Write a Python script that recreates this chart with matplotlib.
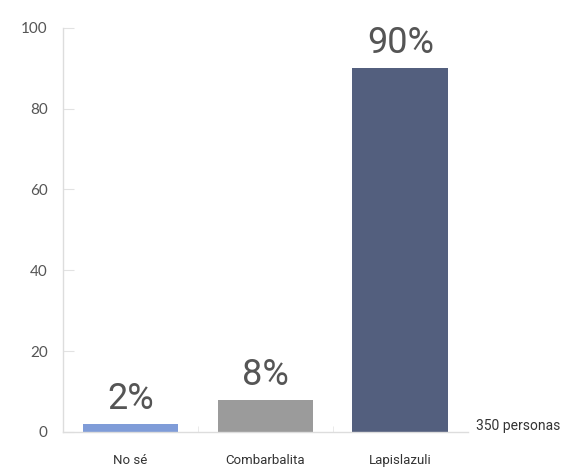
import matplotlib.pyplot as plt
import numpy as np

categories = ['No sé', 'Combarbalita', 'Lapislazuli']
values = [2, 8, 90]
value_labels = ['2%', '8%', '90%']
bar_colors = ['#7f9cd8', '#9b9b9b', '#535f7e']
y_ticks = [0, 20, 40, 60, 80, 100]
total_note = '350 personas'

fig = plt.figure(figsize=(5.84, 4.72), dpi=100)
ax = fig.add_axes([0.108, 0.085, 0.693, 0.856])

x = np.arange(len(categories))
bars = ax.bar(x, values, width=0.71, color=bar_colors)

# percentage labels sitting above each bar
for rect, lab in zip(bars, value_labels):
    ax.annotate(lab, (rect.get_x() + rect.get_width() / 2, rect.get_height()),
                xytext=(0, 5), textcoords='offset points', ha='center', va='bottom',
                fontsize=26, fontweight='normal', color='#555555', family='Roboto')

ax.set_xlim(-0.5, 2.5)
ax.set_ylim(0, 100)
ax.set_yticks(y_ticks)
ax.set_xticks(x)
ax.set_xticklabels(categories, fontsize=9.5, color='#333333', family='Roboto')
ax.set_xticks([0.5, 1.5], minor=True)

for side in ['top', 'right']:
    ax.spines[side].set_visible(False)
for side in ['left', 'bottom']:
    ax.spines[side].set_color('#dddddd')
    ax.spines[side].set_linewidth(1.0)

ax.tick_params(axis='y', direction='in', length=8, color='#e2e2e2', pad=11,
               labelsize=11, labelcolor='#555555')
for t in ax.get_yticklabels():
    t.set_family('Lato')
ax.tick_params(axis='x', which='major', length=0, pad=16)
ax.tick_params(axis='x', which='minor', direction='in', length=4, color='#e6e6e6')

ax.text(1.02, 0.015, total_note, transform=ax.transAxes, ha='left', va='center',
        fontsize=10, color='#333333', family='Roboto')

fig.savefig('out.png', dpi=100)
